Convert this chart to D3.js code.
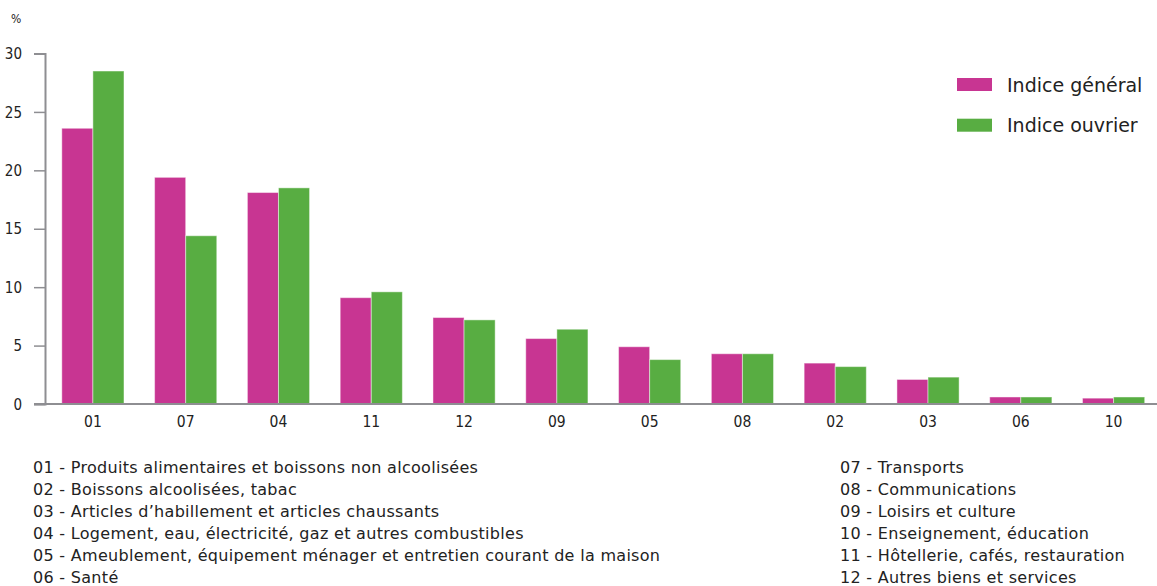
<!DOCTYPE html>
<html>
<head>
<meta charset="utf-8">
<script src="https://cdn.jsdelivr.net/npm/d3@7"></script>
<style>
  body { margin: 0; background: #fff; }
  svg text { font-family: "DejaVu Sans Condensed", "DejaVu Sans", sans-serif; fill: #222; }
  svg text.wide { font-family: "DejaVu Sans", sans-serif; }
</style>
</head>
<body>
<svg id="chart" width="1157" height="586"></svg>
<script>
// postes, dans l'ordre du graphique
var categories = ["01", "07", "04", "11", "12", "09", "05", "08", "02", "03", "06", "10"];
var indiceGeneral = [23.6, 19.4, 18.1, 9.1, 7.4, 5.6, 4.9, 4.3, 3.5, 2.1, 0.6, 0.5];
var indiceOuvrier = [28.5, 14.4, 18.5, 9.6, 7.2, 6.4, 3.8, 4.3, 3.2, 2.3, 0.6, 0.6];
var seriesNames = ["Indice général", "Indice ouvrier"];
var yTicks = [0, 5, 10, 15, 20, 25, 30];

var notesLeft = [
  "01 - Produits alimentaires et boissons non alcoolisées",
  "02 - Boissons alcoolisées, tabac",
  "03 - Articles d\u2019habillement et articles chaussants",
  "04 - Logement, eau, électricité, gaz et autres combustibles",
  "05 - Ameublement, équipement ménager et entretien courant de la maison",
  "06 - Santé"
];
var notesRight = [
  "07 - Transports",
  "08 - Communications",
  "09 - Loisirs et culture",
  "10 - Enseignement, éducation",
  "11 - Hôtellerie, cafés, restauration",
  "12 - Autres biens et services"
];

var colors = ["#c83592", "#58ad42"];
var axisColor = "#8e8e92";

var svg = d3.select("#chart");

var x = d3.scaleBand()
  .domain(categories)
  .range([46.5, 1160])
  .paddingInner(0.33)
  .paddingOuter(0.165);

var xSub = d3.scaleBand()
  .domain([0, 1])
  .range([0, x.bandwidth()]);

var y = d3.scaleLinear()
  .domain([0, 30])
  .range([404, 53.5]);

// barres
var groups = svg.append("g")
  .selectAll("g")
  .data(categories)
  .enter().append("g")
  .attr("transform", function(d) { return "translate(" + x(d) + ",0)"; });

groups.selectAll("rect")
  .data(function(d, i) { return [indiceGeneral[i], indiceOuvrier[i]]; })
  .enter().append("rect")
  .attr("x", function(d, j) { return xSub(j); })
  .attr("y", function(d) { return y(d); })
  .attr("width", xSub.bandwidth())
  .attr("height", function(d) { return y(0) - y(d); })
  .style("fill", function(d, j) { return colors[j]; })
  .style("stroke", "rgba(255,255,255,0.45)")
  .style("stroke-width", 1);

// axe y
var yAxis = svg.append("g")
  .attr("transform", "translate(45,0)")
  .call(d3.axisLeft(y).tickValues(yTicks).tickSize(11).tickPadding(12));
yAxis.select(".domain").attr("stroke", axisColor).attr("stroke-width", 2);
yAxis.selectAll(".tick line").attr("stroke", axisColor).attr("stroke-width", 1.5);
yAxis.selectAll(".tick text")
  .style("font-size", "15px")
  .style("fill", "#222")
  .attr("dy", "0.34em");

svg.append("text")
  .attr("x", 11)
  .attr("y", 23)
  .style("font-size", "12px")
  .text("%");

// axe x
svg.append("line")
  .attr("x1", 34).attr("x2", 1157)
  .attr("y1", y(0)).attr("y2", y(0))
  .attr("stroke", axisColor)
  .attr("stroke-width", 2);

svg.append("g")
  .selectAll("text")
  .data(categories)
  .enter().append("text")
  .attr("x", function(d) { return x(d) + x.bandwidth() / 2; })
  .attr("y", 427)
  .attr("text-anchor", "middle")
  .style("font-size", "15.5px")
  .text(function(d) { return d; });

// légende
var legend = svg.append("g")
  .selectAll("g")
  .data(seriesNames)
  .enter().append("g")
  .attr("transform", function(d, i) { return "translate(957," + (78 + i * 40.7) + ")"; });

legend.append("rect")
  .attr("width", 35)
  .attr("height", 13)
  .style("fill", function(d, i) { return colors[i]; });

legend.append("text")
  .attr("class", "wide")
  .attr("x", 50)
  .attr("y", 13.5)
  .style("font-size", "19px")
  .text(function(d) { return d; });

// notes
svg.append("g")
  .selectAll("text")
  .data(notesLeft)
  .enter().append("text")
  .attr("class", "wide")
  .attr("x", 33)
  .attr("y", function(d, i) { return 473 + i * 22; })
  .style("font-size", "16px")
  .style("letter-spacing", "0.3px")
  .text(function(d) { return d; });

svg.append("g")
  .selectAll("text")
  .data(notesRight)
  .enter().append("text")
  .attr("class", "wide")
  .attr("x", 840)
  .attr("y", function(d, i) { return 473 + i * 22; })
  .style("font-size", "16px")
  .style("letter-spacing", "0.3px")
  .text(function(d) { return d; });
</script>
</body>
</html>
